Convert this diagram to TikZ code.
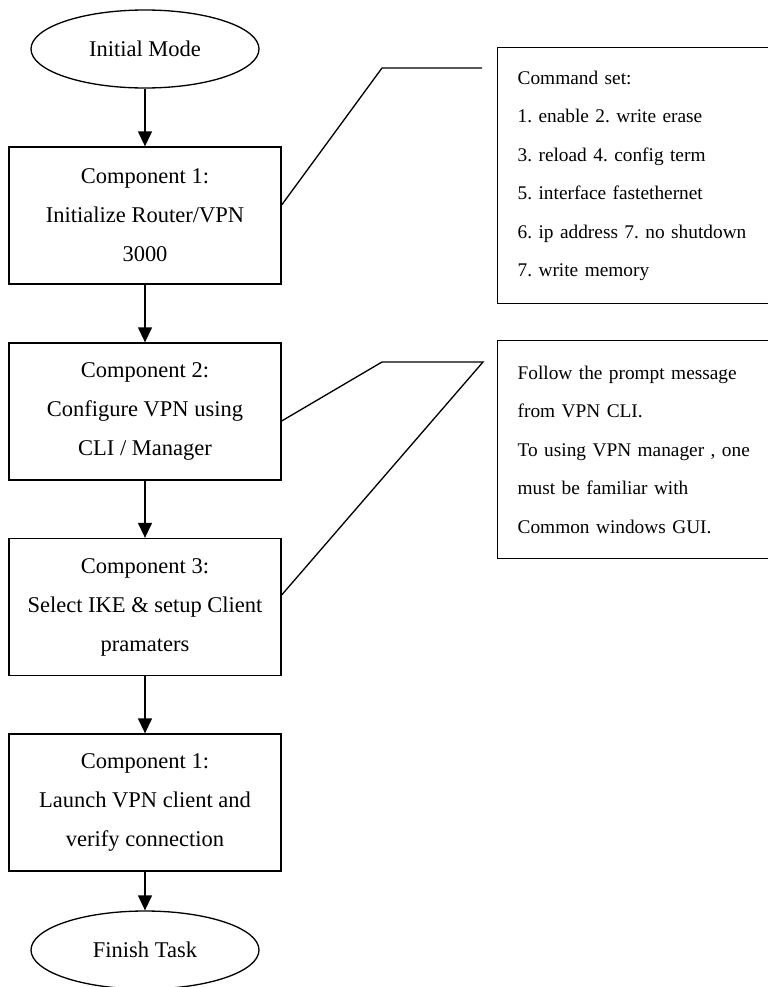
\documentclass[tikz,border=0pt]{standalone}
\usepackage{fontspec}
\setmainfont{Liberation Serif}
\usetikzlibrary{arrows.meta,calc,shapes.geometric}
\frenchspacing
\newcommand{\boxfont}{\fontsize{12.8}{22.2}\selectfont}
\newcommand{\notefont}{\fontsize{11.0}{21.9}\selectfont}
\tikzset{
    flow diagram/.style = {>={Triangle[length=3mm, width=2.8mm]}},
    line/.style         = {line width=0.75pt},
    stepblock/.style    = {draw, line width=0.75pt, align=center,
                           minimum width=5.44cm, minimum height=2.74cm,
                           font=\boxfont},
    terminal/.style     = {draw, ellipse, line width=0.75pt,
                           minimum width=4.56cm, minimum height=1.56cm,
                           font=\boxfont},
    note/.style         = {draw, line width=0.75pt, anchor=north west,
                           align=left, text width=5.4cm, inner xsep=4mm,
                           font=\notefont}
}

\begin{document}
\begin{tikzpicture}[flow diagram]
\useasboundingbox (0,0) rectangle (15.36,-19.74);

% ================= Main flow (left column) =================
\node[terminal]  (init)  at (2.90,  -0.98) {Initial Mode};
\node[stepblock] (comp1) at (2.90,  -4.31) {Component 1:\\Initialize Router/VPN\\3000};
\node[stepblock] (comp2) at (2.90,  -8.23) {Component 2:\\Configure VPN using\\CLI / Manager};
\node[stepblock] (comp3) at (2.90, -12.14) {Component 3:\\Select IKE \& setup Client\\pramaters};
\node[stepblock] (comp4) at (2.90, -16.05) {Component 1:\\Launch VPN client and\\verify connection};
\node[terminal]  (done)  at (2.90, -19.00) {Finish Task};

\draw[->, line] (init.south)  -- (comp1.north);
\draw[->, line] (comp1.south) -- (comp2.north);
\draw[->, line] (comp2.south) -- (comp3.north);
\draw[->, line] (comp3.south) -- (comp4.north);
\draw[->, line] (comp4.south) -- (done.north);

% ================= Notes (right column) =================
\node[note, minimum height=5.12cm] (cmds) at (9.94, -0.94)
    {Command set:\\1. enable 2. write erase\\3. reload 4. config term\\5. interface fastethernet\\6. ip address 7. no shutdown\\7. write memory};
\node[note, minimum height=4.36cm] (hint) at (9.94, -6.80)
    {Follow the prompt message\\from VPN CLI.\\To using VPN manager , one\\must be familiar with\\Common windows GUI.};

% ================= Callout leaders =================
\coordinate (knee1) at (7.64, -1.36);
\coordinate (tip1)  at (9.64, -1.36);
\draw[line] ($(comp1.east)+(0,0.21)$) -- (knee1) -- (tip1);

\coordinate (knee2) at (7.64, -7.24);
\coordinate (tip2)  at (9.66, -7.24);
\draw[line] ($(comp2.east)+(0,-0.19)$) -- (knee2) -- (tip2)
            -- ($(comp3.east)+(0,0.24)$);

\end{tikzpicture}
\end{document}
